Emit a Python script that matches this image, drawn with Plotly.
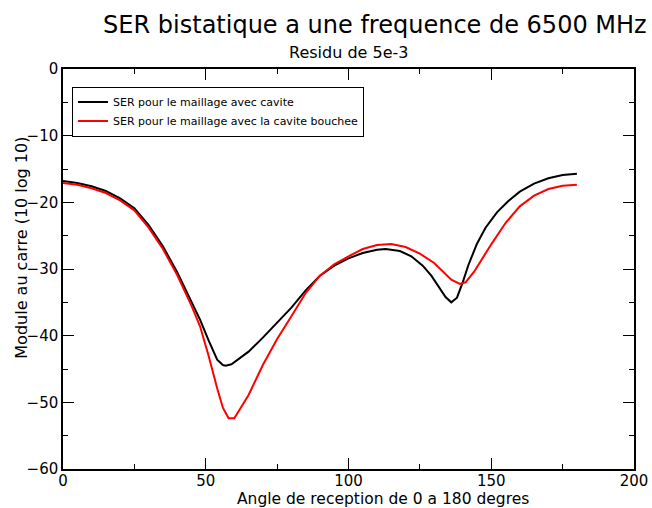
import plotly.graph_objects as go

# SER curves (angle in degrees, level in dB)
angle_cavite = [0, 5, 10, 15, 20, 25, 30, 35, 40, 45, 48, 51, 54, 56, 57, 59, 62, 65, 70, 75,
                80, 85, 90, 95, 100, 105, 110, 113, 118, 122, 126, 129, 132, 134, 136, 138,
                140, 142, 145, 148, 152, 156, 160, 165, 170, 175, 180]
ser_cavite = [-16.8, -17.1, -17.6, -18.3, -19.4, -20.9, -23.4, -26.6, -30.5, -34.8, -37.6, -40.7,
              -43.6, -44.4, -44.5, -44.3, -43.4, -42.4, -40.3, -38.0, -35.8, -33.2, -31.0, -29.5,
              -28.4, -27.6, -27.1, -27.0, -27.3, -28.1, -29.5, -31.0, -33.0, -34.2, -35.0, -34.3,
              -32.0, -29.4, -26.2, -23.8, -21.5, -19.8, -18.4, -17.2, -16.4, -15.9, -15.7]

angle_bouchee = [0, 5, 10, 15, 20, 25, 30, 35, 40, 45, 48, 51, 54, 56, 58, 60, 62, 65, 70, 75,
                 80, 85, 90, 95, 100, 105, 110, 115, 120, 125, 130, 133, 136, 139, 141, 144,
                 147, 150, 155, 160, 165, 170, 175, 180]
ser_bouchee = [-17.1, -17.35, -17.9, -18.6, -19.7, -21.2, -23.8, -27.0, -30.9, -35.5, -38.6, -43.0,
               -47.9, -50.8, -52.4, -52.4, -51.0, -48.9, -44.4, -40.5, -37.1, -33.6, -31.0, -29.3,
               -28.1, -27.0, -26.4, -26.25, -26.7, -27.7, -29.1, -30.3, -31.6, -32.25, -32.0, -30.4,
               -28.3, -26.3, -23.1, -20.6, -19.0, -18.0, -17.5, -17.35]

font = "DejaVu Sans"

fig = go.Figure()
fig.add_trace(go.Scatter(x=angle_cavite, y=ser_cavite, mode="lines",
                         line=dict(color="black", width=2),
                         name="SER pour le maillage avec cavite"))
fig.add_trace(go.Scatter(x=angle_bouchee, y=ser_bouchee, mode="lines",
                         line=dict(color="#ff0000", width=2),
                         name="SER pour le maillage avec la cavite bouchee"))

axis_style = dict(showgrid=False, zeroline=False, showline=True, linecolor="black", linewidth=1.5,
                  ticks="inside", ticklen=11, tickwidth=1, tickcolor="black", mirror="allticks",
                  automargin=False, tickfont=dict(family=font, size=15, color="black"))

fig.update_xaxes(range=[0, 200], dtick=50, tick0=0, ticklabelstandoff=-3,
                 minor=dict(dtick=25, ticks="inside", ticklen=5, tickcolor="black"),
                 **axis_style)
fig.update_yaxes(range=[-60, 0], dtick=10, tick0=0,
                 minor=dict(dtick=5, ticks="inside", ticklen=5, tickcolor="black"),
                 **axis_style)

fig.update_layout(
    width=652, height=508,
    margin=dict(l=63, r=18, t=69, b=39),
    paper_bgcolor="white", plot_bgcolor="white",
    font=dict(family=font, color="black"),
    title=dict(text="SER bistatique a une frequence de 6500 MHz", x=0.575, xanchor="center",
               y=0.952, yanchor="middle", font=dict(family=font, size=24, color="black")),
    legend=dict(x=0.0158, y=0.956, xanchor="left", yanchor="top", bordercolor="black",
                borderwidth=1, bgcolor="white", font=dict(family=font, size=11, color="black"),
                tracegroupgap=0, itemwidth=30),
    annotations=[
        dict(text="Residu de 5e-3", xref="paper", yref="paper", x=0.5, y=1.0425,
             xanchor="center", yanchor="middle", showarrow=False,
             font=dict(family=font, size=16, color="black")),
        dict(text="Angle de reception de 0 a 180 degres", xref="paper", yref="paper",
             x=0.56, y=-0.074, xanchor="center", yanchor="middle", showarrow=False,
             font=dict(family=font, size=15.5, color="black")),
        dict(text="Module au carre (10 log 10)", xref="paper", yref="paper",
             x=-0.072, y=0.553, xanchor="center", yanchor="middle", textangle=-90,
             showarrow=False, font=dict(family=font, size=16, color="black")),
    ],
)

fig.write_html("out.html", config={"displayModeBar": False},
               post_script="document.body.style.margin='0';")
